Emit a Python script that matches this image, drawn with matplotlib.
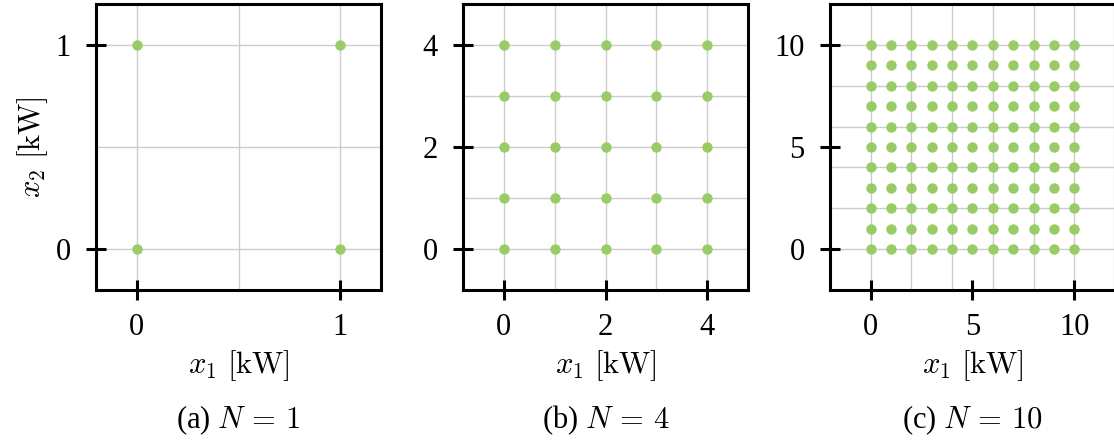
import numpy as np
import matplotlib.pyplot as plt

# Grid sizes and tick / grid positions for each panel
sizes = [1, 4, 10]
panel_tags = ['(a)', '(b)', '(c)']
major_ticks = [[0, 1], [0, 2, 4], [0, 5, 10]]
grid_lines = [[0, 0.5, 1], [0, 1, 2, 3, 4], [0, 2, 4, 6, 8, 10]]

plt.rcParams['font.family'] = 'serif'
plt.rcParams['font.serif'] = ['Liberation Serif', 'DejaVu Serif']
plt.rcParams['mathtext.fontset'] = 'cm'
plt.rcParams['font.size'] = 22

dpi = 100
fig = plt.figure(figsize=(1114 / dpi, 442 / dpi), dpi=dpi)

lefts = [96, 463, 830]
for i, n in enumerate(sizes):
    ax = fig.add_axes([lefts[i] / 1114, 152 / 442, 285 / 1114, 286 / 442])

    # every integer combination 0..N on both axes
    vals = np.arange(n + 1)
    xx, yy = np.meshgrid(vals, vals)
    ax.plot(xx.ravel(), yy.ravel(), 'o', color='#99cc66', markersize=7.5,
            markeredgewidth=0, zorder=3)

    ax.set_xlim(-0.2 * n, 1.2 * n)
    ax.set_ylim(-0.2 * n, 1.2 * n)
    ax.set_xticks(major_ticks[i])
    ax.set_yticks(major_ticks[i])
    for g in grid_lines[i]:
        ax.axvline(g, color='#cccccc', lw=1, zorder=1)
        ax.axhline(g, color='#cccccc', lw=1, zorder=1)

    ax.tick_params(direction='inout', length=14.5, width=2.2, labelsize=22)
    ax.tick_params(axis='x', pad=9)
    ax.tick_params(axis='y', pad=11)
    for s in ax.spines.values():
        s.set_linewidth(2.2)

    ax.set_xlabel(r'$x_1\ [\mathrm{kW}]$', fontsize=22, labelpad=5)
    if i == 0:
        ax.set_ylabel(r'$x_2\ [\mathrm{kW}]$', fontsize=22, labelpad=4)

    ax.text(0.5, -0.455, panel_tags[i] + ' ' + r'$N\,=\,%d$' % n,
            transform=ax.transAxes, ha='center', va='center', fontsize=22)

plt.savefig('out.png', dpi=dpi)
